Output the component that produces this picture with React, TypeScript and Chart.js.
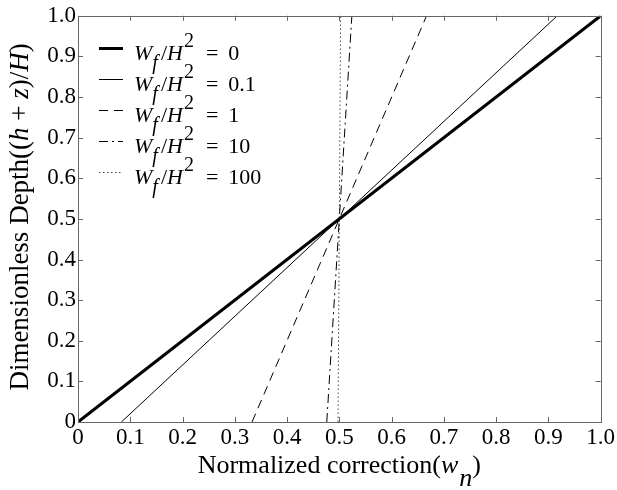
import React, { useEffect, useRef } from 'react';
import { Chart, registerables } from 'chart.js';

Chart.register(...registerables);

// ---- data ----
const wfLabels = ['0', '0.1', '1', '10', '100'];
const depthEnds = [0, 1];
const corrW0 = [0, 1];
const corrW01 = [0.083, 0.917];
const corrW1 = [0.333, 0.667];
const corrW10 = [0.476, 0.524];
const corrW100 = [0.4975, 0.5025];
const tickValues = [0, 0.1, 0.2, 0.3, 0.4, 0.5, 0.6, 0.7, 0.8, 0.9, 1.0];
const tickLabels = ['0', '0.1', '0.2', '0.3', '0.4', '0.5', '0.6', '0.7', '0.8', '0.9', '1.0'];
const xTitleParts = ['Normalized correction(', 'w', 'n', ')'];
const yTitleParts = ['Dimensionless Depth((', 'h', ' + ', 'z', ')/', 'H', ')'];

const SERIF = '"Liberation Serif", "Times New Roman", serif';

const seriesCorr = [corrW0, corrW01, corrW1, corrW10, corrW100];
const seriesStyle = [
  { width: 3, dash: [] as number[], color: '#000' },
  { width: 1, dash: [] as number[], color: '#000' },
  { width: 1, dash: [9, 6], color: '#000' },
  { width: 1, dash: [9, 4, 2, 4], color: '#000' },
  { width: 1, dash: [1.5, 2.5], color: '#444' },
];

type Run = { t: string; font: string; dy?: number; gap?: number };

function runsWidth(ctx: CanvasRenderingContext2D, runs: Run[]) {
  let w = 0;
  for (const r of runs) {
    ctx.font = r.font;
    w += ctx.measureText(r.t).width + (r.gap || 0);
  }
  return w;
}

function drawRuns(ctx: CanvasRenderingContext2D, x: number, y: number, runs: Run[]) {
  for (const r of runs) {
    ctx.font = r.font;
    ctx.fillText(r.t, x, y + (r.dy || 0));
    x += ctx.measureText(r.t).width + (r.gap || 0);
  }
  return x;
}

const decorPlugin = {
  id: 'decor',
  afterDatasetsDraw(chart: any) {
    const ctx: CanvasRenderingContext2D = chart.ctx;
    const { left, right, top, bottom } = chart.chartArea;
    const xs = chart.scales.x;
    const ys = chart.scales.y;
    ctx.save();
    // box
    ctx.strokeStyle = '#666';
    ctx.lineWidth = 1;
    ctx.setLineDash([]);
    ctx.strokeRect(Math.round(left) + 0.5, Math.round(top) + 0.5, Math.round(right - left), Math.round(bottom - top));
    // inward ticks
    const tl = 5;
    ctx.beginPath();
    for (const v of tickValues) {
      const px = Math.round(xs.getPixelForValue(v)) + 0.5;
      ctx.moveTo(px, bottom);
      ctx.lineTo(px, bottom - tl);
      ctx.moveTo(px, top);
      ctx.lineTo(px, top + tl);
      const py = Math.round(ys.getPixelForValue(v)) + 0.5;
      ctx.moveTo(left, py);
      ctx.lineTo(left + tl, py);
      ctx.moveTo(right, py);
      ctx.lineTo(right - tl, py);
    }
    ctx.stroke();

    ctx.fillStyle = '#000';
    ctx.textBaseline = 'alphabetic';
    ctx.textAlign = 'left';

    // x title
    const xf = `26px ${SERIF}`;
    const xfi = `italic 26px ${SERIF}`;
    const xRuns: Run[] = [
      { t: xTitleParts[0], font: xf },
      { t: xTitleParts[1], font: xfi, gap: 1 },
      { t: xTitleParts[2], font: xfi, dy: 13 },
      { t: xTitleParts[3], font: xf },
    ];
    const xw = runsWidth(ctx, xRuns);
    drawRuns(ctx, (left + right) / 2 - xw / 2, 473, xRuns);

    // y title
    const yf = `27px ${SERIF}`;
    const yfi = `italic 27px ${SERIF}`;
    const yRuns: Run[] = [
      { t: yTitleParts[0], font: yf },
      { t: yTitleParts[1], font: yfi },
      { t: yTitleParts[2], font: yf },
      { t: yTitleParts[3], font: yfi },
      { t: yTitleParts[4], font: yf },
      { t: yTitleParts[5], font: yfi },
      { t: yTitleParts[6], font: yf },
    ];
    const yw = runsWidth(ctx, yRuns);
    ctx.save();
    ctx.translate(28, (top + bottom) / 2 - 2);
    ctx.rotate(-Math.PI / 2);
    drawRuns(ctx, -yw / 2, 0, yRuns);
    ctx.restore();

    // legend
    const lf = `22px ${SERIF}`;
    const lfi = `italic 22px ${SERIF}`;
    const lfs = `20px ${SERIF}`;
    const lfsi = `italic 20px ${SERIF}`;
    for (let i = 0; i < wfLabels.length; i++) {
      const ly = 48 + i * 31;
      const st = seriesStyle[i];
      ctx.save();
      ctx.strokeStyle = st.color;
      ctx.lineWidth = st.width;
      ctx.setLineDash(st.dash);
      ctx.beginPath();
      ctx.moveTo(99, ly + 0.5);
      ctx.lineTo(123, ly + 0.5);
      ctx.stroke();
      ctx.restore();
      const base = ly + 12;
      drawRuns(ctx, 134, base, [
        { t: 'W', font: lfi, gap: 0 },
        { t: 'f', font: lfsi, dy: 9, gap: 3 },
        { t: '/', font: lf },
        { t: 'H', font: lfi, gap: 1 },
        { t: '2', font: lfs, dy: -13, gap: 12 },
        { t: '=', font: lf, gap: 10 },
        { t: wfLabels[i], font: lf },
      ]);
    }
    ctx.restore();
  },
};

export default function App() {
  const ref = useRef<HTMLCanvasElement | null>(null);
  useEffect(() => {
    const canvas = ref.current!;
    const datasets = seriesCorr.map((c, i) => ({
      label: `Wf/H^2 = ${wfLabels[i]}`,
      data: c.map((x, j) => ({ x, y: depthEnds[j] })),
      showLine: true,
      borderColor: seriesStyle[i].color,
      borderWidth: seriesStyle[i].width,
      borderDash: seriesStyle[i].dash,
      pointRadius: 0,
      fill: false,
      tension: 0,
    }));
    const tickFont = { family: SERIF, size: 23 };
    const chart = new Chart(canvas, {
      type: 'scatter',
      data: { datasets },
      options: {
        animation: false,
        responsive: false,
        devicePixelRatio: 1,
        layout: { padding: { top: 11, right: 16, left: 0, bottom: 0 } },
        plugins: { legend: { display: false }, tooltip: { enabled: false } },
        scales: {
          x: {
            type: 'linear',
            min: 0,
            max: 1,
            afterBuildTicks: (s: any) => { s.ticks = tickValues.map((v) => ({ value: v })); },
            afterFit: (s: any) => { s.height = 68; },
            ticks: {
              font: tickFont,
              color: '#000',
              padding: 2,
              maxRotation: 0,
              autoSkip: false,
              callback: (_v: any, i: number) => tickLabels[i],
            },
            grid: { display: false, drawTicks: false },
            border: { display: false },
          },
          y: {
            type: 'linear',
            min: 0,
            max: 1,
            afterBuildTicks: (s: any) => { s.ticks = tickValues.map((v) => ({ value: v })); },
            afterFit: (s: any) => { s.width = 78; },
            ticks: {
              font: tickFont,
              color: '#000',
              padding: 2,
              autoSkip: false,
              callback: (_v: any, i: number) => tickLabels[i],
            },
            grid: { display: false, drawTicks: false },
            border: { display: false },
          },
        },
      },
      plugins: [decorPlugin],
    });
    return () => chart.destroy();
  }, []);
  return (
    <div style={{ position: 'absolute', left: 0, top: 0, width: 617, height: 490, background: '#fff' }}>
      <canvas ref={ref} width={617} height={490} />
    </div>
  );
}
